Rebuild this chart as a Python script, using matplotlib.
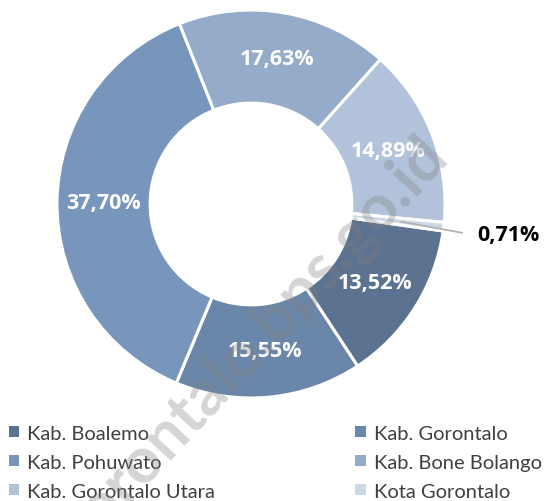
import numpy as np
import matplotlib.pyplot as plt
from matplotlib.patches import Patch

plt.rcParams['font.family'] = ['Lato', 'DejaVu Sans']

regions = ["Kab. Boalemo", "Kab. Gorontalo", "Kab. Pohuwato",
           "Kab. Bone Bolango", "Kab. Gorontalo Utara", "Kota Gorontalo"]
shares = [13.52, 15.55, 37.70, 17.63, 14.89, 0.71]
colors = ["#5b7290", "#6a86a8", "#7896bb", "#94abc9", "#b1c2da", "#cdd8e7"]

W, H = 559, 502
fig = plt.figure(figsize=(W / 100, H / 100), dpi=100)
ax = fig.add_axes([0, 0, 1, 1])

cx, cy, R = 251, H - 205, 194
ring = 0.48
wedges, _ = ax.pie(shares, colors=colors, startangle=-8, counterclock=False,
                   center=(cx, cy), radius=R,
                   wedgeprops=dict(width=R * ring, edgecolor="white", linewidth=2.2))

bold = dict(family=["Open Sans", "DejaVu Sans"], fontweight="bold", fontsize=15.5)
for w, v in zip(wedges, shares):
    mid = np.deg2rad((w.theta1 + w.theta2) / 2)
    txt = f"{v:.2f}%".replace(".", ",")
    if v < 2:
        x0 = cx + R * 0.78 * np.cos(mid)
        y0 = cy + R * 0.78 * np.sin(mid)
        ax.plot([x0, x0 + 55, 462], [y0, y0 - 10, y0 - 11], color="#b0b0b0", lw=1.2)
        ax.text(477, y0 - 13, txt, ha="left", va="center", color="black", **bold)
    else:
        r = R * (1 - ring / 2)
        ax.text(cx + r * np.cos(mid), cy + r * np.sin(mid), txt, ha="center",
                va="center", color="white", **bold)

ax.set_aspect("equal")
ax.set_xlim(0, W)
ax.set_ylim(0, H)
ax.axis("off")

handles = [Patch(facecolor=c, label=l) for c, l in zip(colors, regions)]
order = [0, 2, 4, 1, 3, 5]
fig.legend([handles[i] for i in order], [regions[i] for i in order], ncol=2,
           loc="upper left", bbox_to_anchor=(-0.01, 0.18), frameon=False,
           fontsize=14.5, handlelength=0.5, handleheight=0.5, handletextpad=0.4,
           columnspacing=7.0, labelspacing=0.6, borderpad=0.2,
           labelcolor="#404040")

# watermark
fig.text(0.45, 1 - 346 / H, "gorontalo.bps.go.id", rotation=47, ha="center",
         va="center", fontsize=46, fontweight="bold", color="#808080", alpha=0.33,
         zorder=10)

fig.savefig("out.png", dpi=100)
